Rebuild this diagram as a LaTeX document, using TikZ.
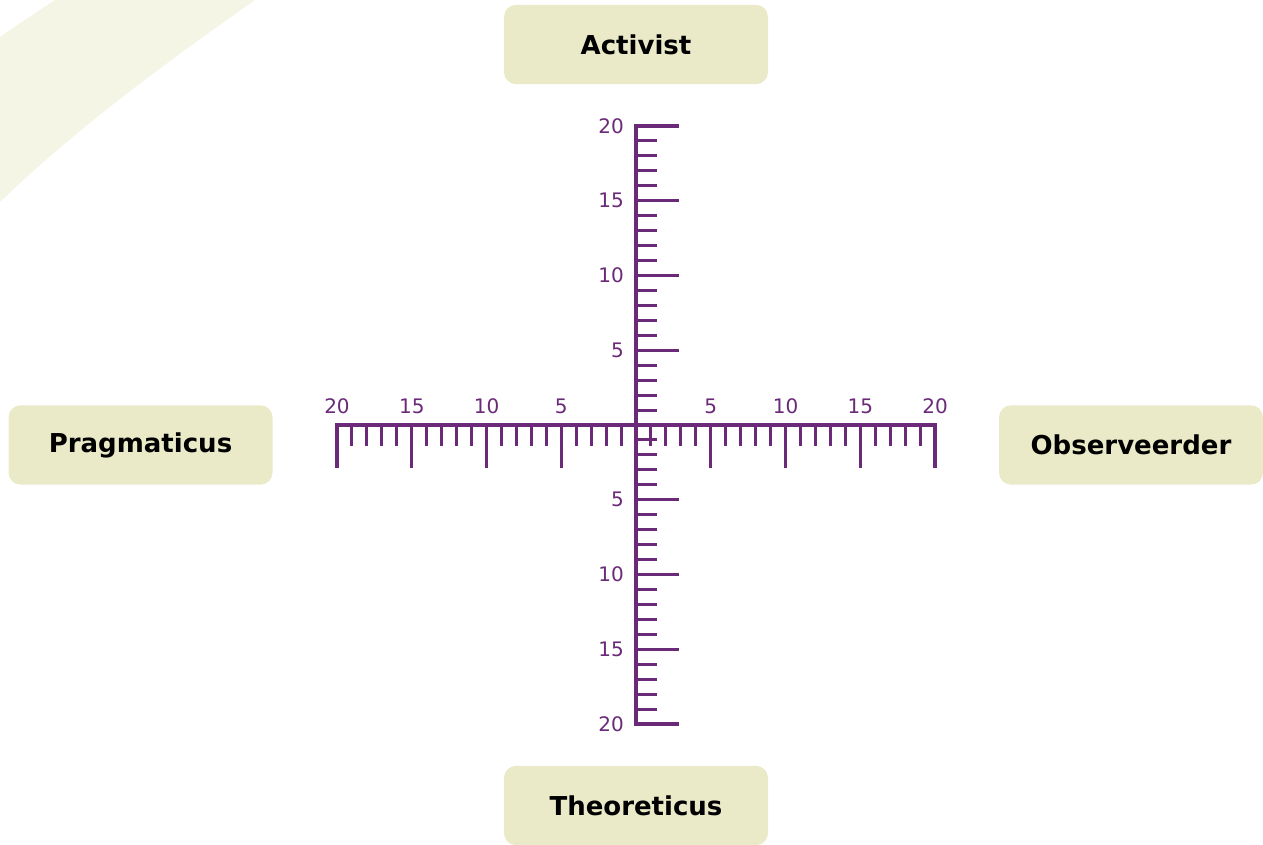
\documentclass[tikz,border=0pt]{standalone}
\usepackage{fontspec}
\setmainfont{DejaVu Sans}
\definecolor{axispurple}{RGB}{106,42,120}
\definecolor{boxfill}{RGB}{234,234,200}
\definecolor{swoosh}{RGB}{245,245,230}
\begin{document}
\begin{tikzpicture}[x=0.75pt,y=-0.75pt,
  rolebox/.style={draw=none,fill=boxfill,rounded corners=9pt,minimum width=198pt,minimum height=59.5pt,inner sep=0pt,font=\fontsize{19.5}{23}\selectfont\bfseries,text=black},
  axisline/.style={draw=axispurple,line width=2.3pt},
  ticklbl/.style={text=axispurple,font=\fontsize{15}{18}\selectfont,inner sep=0pt}]
\useasboundingbox (0,0) rectangle (1263,845);
\fill[swoosh] (55,0) -- (255,0) .. controls (170,60) and (80,125) .. (0,202) -- (0,37) .. controls (20,23) .. (55,0) -- cycle;
% boxes
\node[rolebox] (act) at (636,44.5) {Activist};
\node[rolebox] (theo) at (636,805.5) {Theoreticus};
\node[rolebox] (prag) at (140.5,445) {Pragmaticus};
\node[rolebox] (obs) at (1131,445) {Observeerder};
% axes
\coordinate (o) at (636,425);
\draw[axisline] (679,126) -- (636,126) -- (636,724) -- (679,724);
\draw[axisline] (337,468) -- (337,425) -- (935,425) -- (935,468);
\foreach \i in {1,...,19}{
  \pgfmathsetmacro{\len}{mod(\i,5)==0 ? 43 : 21}
  \draw[axisline] (636,425-14.95*\i) -- ++(\len,0);
  \draw[axisline] (636,425+14.95*\i) -- ++(\len,0);
  \draw[axisline] (636-14.95*\i,425) -- ++(0,\len);
  \draw[axisline] (636+14.95*\i,425) -- ++(0,\len);
}
\foreach \v in {5,10,15,20}{
  \node[ticklbl,anchor=east] (vu\v) at (624,425-14.95*\v) {\v};
  \node[ticklbl,anchor=east] (vd\v) at (624,425+14.95*\v) {\v};
  \node[ticklbl] (hl\v) at (636-14.95*\v,406) {\v};
  \node[ticklbl] (hr\v) at (636+14.95*\v,406) {\v};
}
\end{tikzpicture}
\end{document}
